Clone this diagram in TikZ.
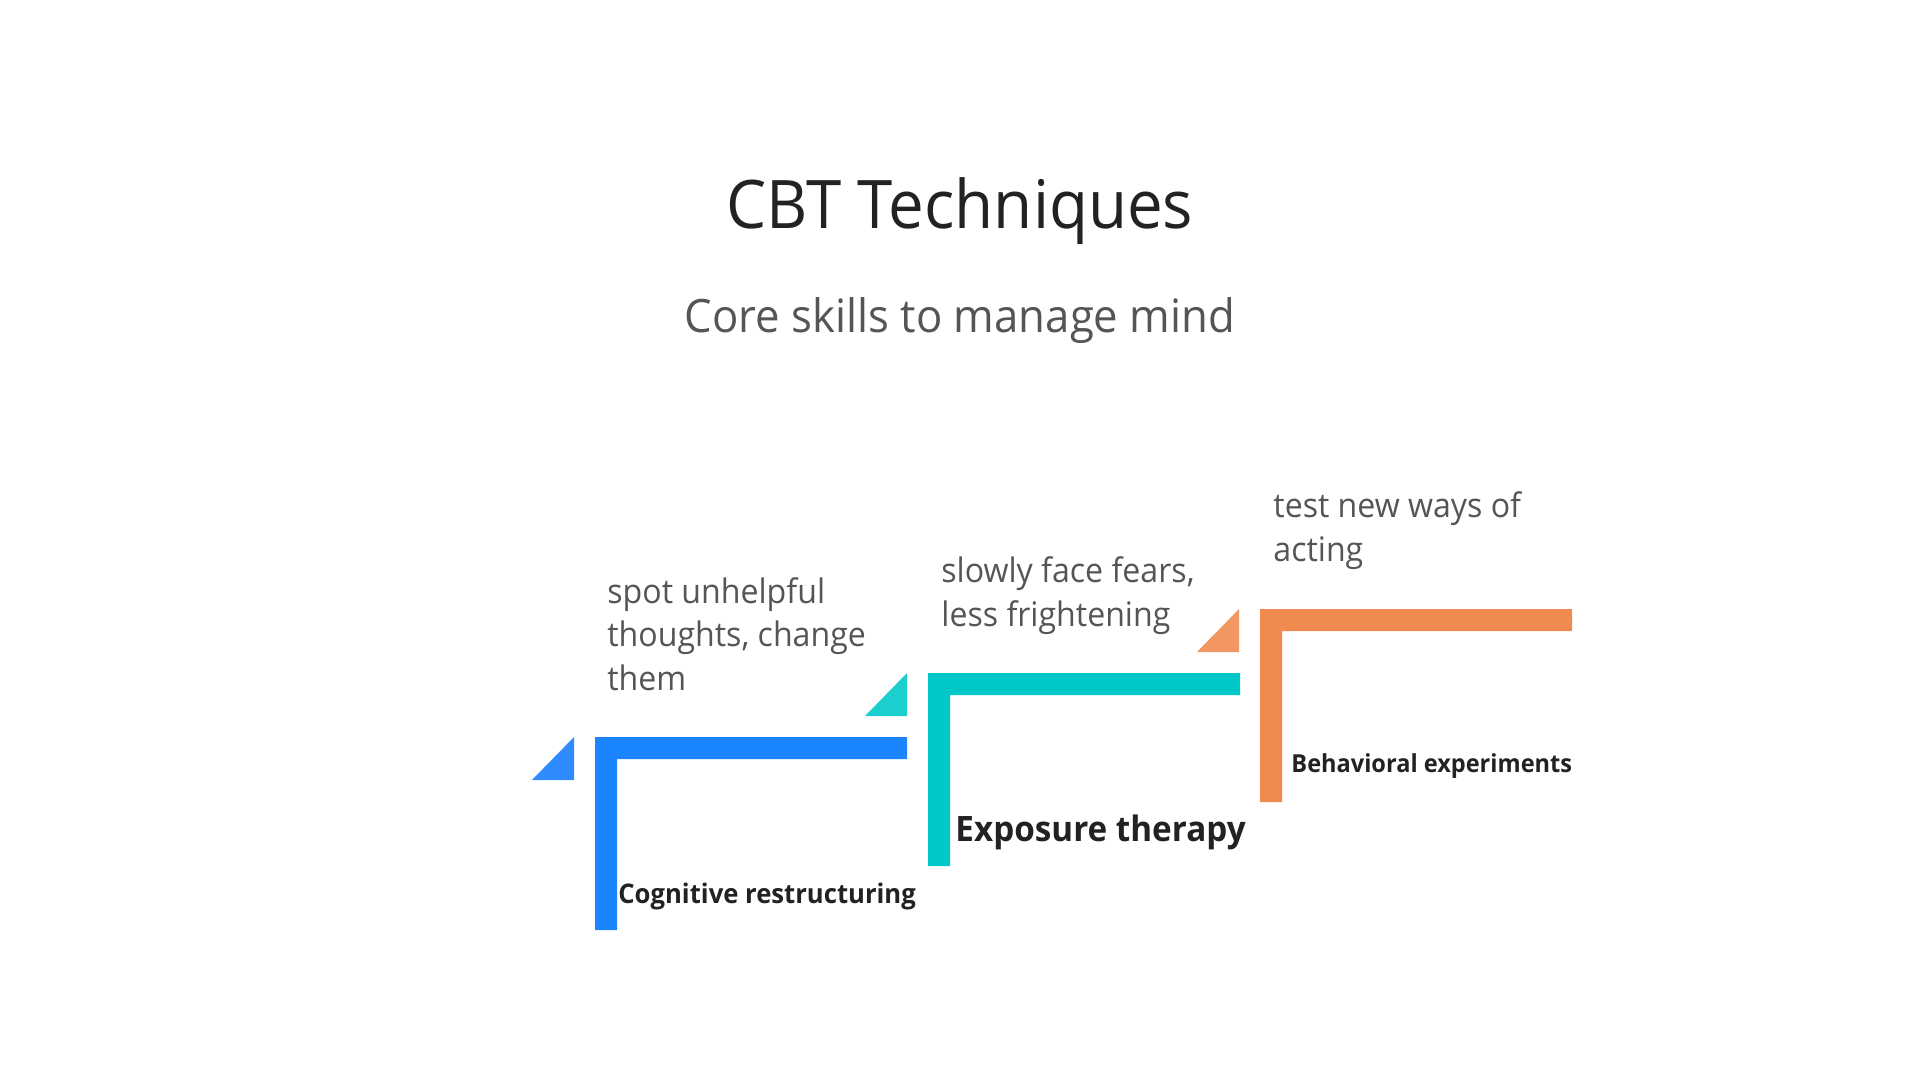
\documentclass[tikz,border=0pt]{standalone}
\usepackage{fontspec}
\setmainfont{Open Sans}[FakeStretch=0.95]
\definecolor{stepblue}{HTML}{1A85FF}
\definecolor{triblue}{HTML}{2E8CFF}
\definecolor{stepteal}{HTML}{00C8C8}
\definecolor{triteal}{HTML}{1CCFCF}
\definecolor{steporange}{HTML}{F08A50}
\definecolor{triorange}{HTML}{F29662}
\definecolor{darktext}{HTML}{222222}
\definecolor{softtext}{HTML}{555555}
\tikzset{
  titletext/.style={anchor=base, inner sep=0pt, text=darktext, font=\fontsize{33.5}{40}\selectfont},
  subtext/.style={anchor=base, inner sep=0pt, text=softtext, font=\fontsize{23}{28}\selectfont},
  desctext/.style={anchor=base west, inner sep=0pt, align=left, text=softtext, font=\fontsize{16.9}{21.75}\selectfont},
  labeltext/.style={anchor=base west, inner sep=0pt, text=darktext, font=\bfseries\fontsize{#1}{#1}\selectfont}
}
\begin{document}
\begin{tikzpicture}[x=0.5pt,y=-0.5pt]
  \useasboundingbox (0,0) rectangle (1920,1080);
  \node[titletext] (title) at (960,229) {CBT Techniques};
  \node[subtext] (subtitle) at (960,333) {Core skills to manage mind};
  % the three steps
  \foreach \n/\x/\y/\col/\tri in {1/595/737/stepblue/triblue,
      2/928/673/stepteal/triteal,
      3/1260/609/steporange/triorange}
  {
    \fill[\tri] (\x-63,\y+43) -- (\x-21,\y+43) -- (\x-21,\y) -- cycle;
    \fill[\col] (\x,\y+193) -- (\x,\y) -- (\x+312,\y) -- (\x+312,\y+22)
      -- (\x+22,\y+22) -- (\x+22,\y+193) -- cycle;
  }
  \node[labeltext=13.5] (lab1) at (618,903) {Cognitive restructuring};
  \node[labeltext=17.5] (lab2) at (955,841) {Exposure therapy};
  \node[labeltext=12.4] (lab3) at (1291,772) {Behavioral experiments};
  % base anchor sits on the last line
  \node[desctext] (desc1) at (607,690) {spot unhelpful\\thoughts, change\\them};
  \node[desctext] (desc2) at (941,626) {slowly face fears,\\less frightening};
  \node[desctext] (desc3) at (1273,561) {test new ways of\\acting};
\end{tikzpicture}
\end{document}
